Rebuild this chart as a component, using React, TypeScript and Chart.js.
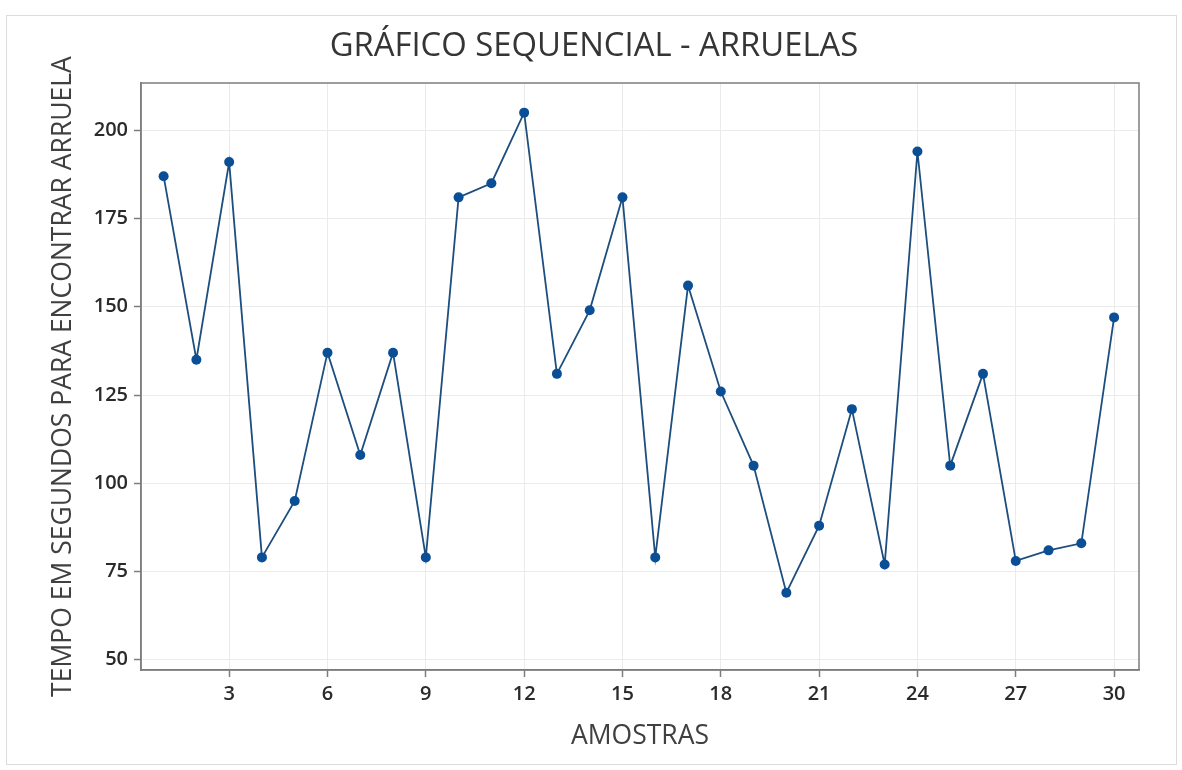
import React, { useEffect, useRef } from "react";
import { Chart, registerables } from "chart.js";

Chart.register(...registerables);

// ---- data ----
const amostras = [1, 2, 3, 4, 5, 6, 7, 8, 9, 10, 11, 12, 13, 14, 15, 16, 17, 18, 19, 20, 21, 22, 23, 24, 25, 26, 27, 28, 29, 30];
const temposSegundos = [187, 135, 191, 79, 95, 137, 108, 137, 79, 181, 185, 205, 131, 149, 181, 79, 156, 126, 105, 69, 88, 121, 77, 194, 105, 131, 78, 81, 83, 147];
const xTickValues = [3, 6, 9, 12, 15, 18, 21, 24, 27, 30];
const yTickValues = [50, 75, 100, 125, 150, 175, 200];
const chartTitle = "GRÁFICO SEQUENCIAL - ARRUELAS";
const xAxisTitle = "AMOSTRAS";
const yAxisTitle = "TEMPO EM SEGUNDOS PARA ENCONTRAR ARRUELA";

const FONT = '"Open Sans", "Noto Sans", sans-serif';
const AXIS_GRAY = "#7d7d7d";

const W = 1182;
const H = 770;

export default function App() {
  const canvasRef = useRef<HTMLCanvasElement | null>(null);

  useEffect(() => {
    const canvas = canvasRef.current;
    if (!canvas) return;

    const framePlugin = {
      id: "frameAndTitle",
      afterDraw(chart: any) {
        const { ctx, chartArea } = chart;
        ctx.save();
        ctx.strokeStyle = AXIS_GRAY;
        ctx.lineWidth = 1.5;
        ctx.strokeRect(chartArea.left, chartArea.top, chartArea.right - chartArea.left, chartArea.bottom - chartArea.top);
        ctx.fillStyle = "#353535";
        ctx.font = `32.8px ${FONT}`;
        ctx.textAlign = "center";
        ctx.textBaseline = "alphabetic";
        ctx.fillText(chartTitle, 594, 56);
        ctx.restore();
      },
    };

    const chart = new Chart(canvas, {
      type: "line",
      data: {
        datasets: [
          {
            data: amostras.map((a, i) => ({ x: a, y: temposSegundos[i] })),
            borderColor: "#1d4e7e",
            borderWidth: 1.8,
            pointRadius: 5,
            pointHoverRadius: 5,
            pointBackgroundColor: "#0a4f96",
            pointBorderWidth: 0,
            tension: 0,
            fill: false,
          },
        ],
      },
      options: {
        responsive: false,
        animation: false,
        events: [],
        layout: { padding: { left: 0, top: 83, right: 43, bottom: 0 } },
        plugins: {
          legend: { display: false },
          tooltip: { enabled: false },
          title: { display: false },
        },
        scales: {
          x: {
            type: "linear",
            min: 0.31,
            max: 30.76,
            afterBuildTicks: (axis: any) => {
              axis.ticks = xTickValues.map((v) => ({ value: v }));
            },
            afterFit: (scale: any) => {
              scale.height = 100;
            },
            grid: {
              color: "#ebebeb",
              lineWidth: 1,
              drawTicks: true,
              tickLength: 7,
              tickColor: AXIS_GRAY,
              tickWidth: 1.5,
            },
            border: { display: true, color: AXIS_GRAY, width: 1.5 },
            ticks: {
              autoSkip: false,
              maxRotation: 0,
              padding: 5,
              color: "#2a2a2a",
              font: { family: FONT, size: 20, weight: "600" },
            },
            title: {
              display: true,
              text: xAxisTitle,
              color: "#404040",
              font: { family: FONT, size: 26.5 },
              padding: { top: 0, bottom: 18 },
            },
          },
          y: {
            type: "linear",
            min: 47.1,
            max: 213.4,
            afterBuildTicks: (axis: any) => {
              axis.ticks = yTickValues.map((v) => ({ value: v }));
            },
            afterFit: (scale: any) => {
              scale.width = 141;
            },
            grid: {
              color: "#ebebeb",
              lineWidth: 1,
              drawTicks: true,
              tickLength: 7,
              tickColor: AXIS_GRAY,
              tickWidth: 1.5,
            },
            border: { display: true, color: AXIS_GRAY, width: 1.5 },
            ticks: {
              autoSkip: false,
              padding: 6,
              color: "#2a2a2a",
              font: { family: FONT, size: 20, weight: "600" },
            },
            title: {
              display: true,
              text: yAxisTitle,
              color: "#404040",
              font: { family: FONT, size: 26.5 },
              padding: { top: 48, bottom: 0 },
            },
          },
        },
      },
      plugins: [framePlugin],
    } as any);

    return () => {
      chart.destroy();
    };
  }, []);

  return (
    <div style={{ position: "absolute", left: 0, top: 0, width: W, height: H, background: "#ffffff", overflow: "hidden" }}>
      <div
        style={{
          position: "absolute",
          left: 6,
          top: 15,
          width: 1171,
          height: 750,
          border: "1px solid #dcdcdc",
          boxSizing: "border-box",
        }}
      />
      <canvas ref={canvasRef} width={W} height={H} style={{ position: "absolute", left: 0, top: 0, display: "block" }} />
    </div>
  );
}
